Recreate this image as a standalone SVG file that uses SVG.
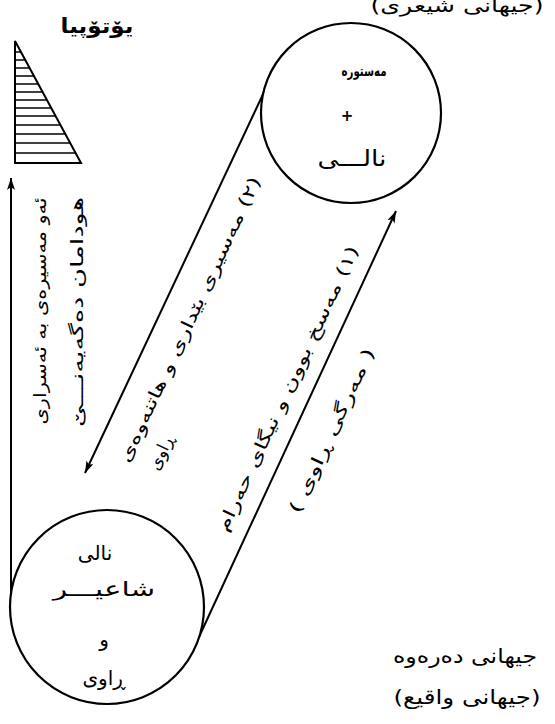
<svg xmlns="http://www.w3.org/2000/svg" width="555" height="724" viewBox="0 0 555 724">
<defs>
<marker id="ah" viewBox="0 0 12 8" refX="12" refY="4" markerWidth="12" markerHeight="8" markerUnits="userSpaceOnUse" orient="auto">
<path d="M0,0 L12,4 L0,8 L3,4 Z" fill="#000"/>
</marker>
<style>
.ln{stroke:#000;stroke-width:2;fill:none}
.nd{stroke:#000;stroke-width:2.2;fill:#fff}
.t{font-family:"DejaVu Sans","Noto Sans",sans-serif;fill:#000;direction:rtl;text-anchor:middle}
.b{font-weight:bold}
</style>
</defs>
<rect width="555" height="724" fill="#fff"/>

<g id="utopia">
<text class="t b" x="97" y="33" font-size="21" textLength="73" lengthAdjust="spacingAndGlyphs">یۆتۆپیا</text>
<polygon points="15,41 15,163 81,163" fill="#fff" stroke="#000" stroke-width="2"/>
<g stroke="#000" stroke-width="1.5">
<line x1="15" y1="52" x2="21" y2="52"/>
<line x1="15" y1="60" x2="25" y2="60"/>
<line x1="15" y1="68" x2="29.6" y2="68"/>
<line x1="15" y1="76" x2="34" y2="76"/>
<line x1="15" y1="84" x2="38.3" y2="84"/>
<line x1="15" y1="92" x2="42.6" y2="92"/>
<line x1="15" y1="100" x2="47" y2="100"/>
<line x1="15" y1="108" x2="51.2" y2="108"/>
<line x1="15" y1="116" x2="55.6" y2="116"/>
<line x1="15" y1="125" x2="60.4" y2="125"/>
<line x1="15" y1="134" x2="65.3" y2="134"/>
<line x1="15" y1="143" x2="70.2" y2="143"/>
<line x1="15" y1="153" x2="75.6" y2="153"/>
</g>
</g>

<g id="poetic-world">
<text class="t" x="457" y="12" font-size="19" textLength="173" lengthAdjust="spacingAndGlyphs">(جیهانی شیعری)</text>
</g>

<g id="connectors">
<line class="ln" x1="11" y1="605" x2="11" y2="178" marker-end="url(#ah)"/>
<line class="ln" x1="265" y1="90" x2="85" y2="473" marker-end="url(#ah)"/>
<line class="ln" x1="199" y1="637" x2="396" y2="211" marker-end="url(#ah)"/>
</g>

<g id="myth-nali">
<circle class="nd" cx="351" cy="113" r="90"/>
<text class="t b" x="364" y="76" font-size="15" textLength="45" lengthAdjust="spacingAndGlyphs">مەستورە</text>
<text class="t b" x="347" y="121" font-size="15">+</text>
<text class="t" x="352" y="166" font-size="22" textLength="69" lengthAdjust="spacingAndGlyphs">نالـــی</text>
</g>

<g id="nali-poet">
<circle class="nd" cx="107" cy="607" r="97"/>
<text class="t" x="95" y="560" font-size="20">نالی</text>
<text class="t" x="104" y="596" font-size="20" textLength="102" lengthAdjust="spacingAndGlyphs">شاعیـــر</text>
<text class="t" x="104" y="646" font-size="20">و</text>
<text class="t" x="104" y="685" font-size="20">ڕاوی</text>
</g>

<g id="outer-world">
<text class="t" x="465" y="663" font-size="20" textLength="144" lengthAdjust="spacingAndGlyphs">جیهانی دەرەوە</text>
<text class="t" x="467" y="704" font-size="20" textLength="147" lengthAdjust="spacingAndGlyphs">(جیهانی واقیع)</text>
</g>

<g id="labels">
<text class="t" font-size="17" transform="translate(46,311) rotate(-90)" textLength="227" lengthAdjust="spacingAndGlyphs">ئەو مەسیرەی بە ئەسراری</text>
<text class="t" font-size="17" transform="translate(83,312) rotate(-90)" textLength="230" lengthAdjust="spacingAndGlyphs">هودامان دەگەیەنـــێ</text>
<text class="t" font-size="17" transform="translate(195,322) rotate(-65)" textLength="313" lengthAdjust="spacingAndGlyphs">(٢) مەسیری بێداری و هاتنەوەی</text>
<text class="t" font-size="17" transform="translate(166,455) rotate(-65)">ڕاوی</text>
<text class="t" font-size="17" transform="translate(293,391) rotate(-65)" textLength="313" lengthAdjust="spacingAndGlyphs">(١) مەسخ بوون و نیگای حەرام</text>
<text class="t" font-size="17" transform="translate(337,433) rotate(-65)" textLength="180" lengthAdjust="spacingAndGlyphs">( مەرگی ڕاوی )</text>
</g>
</svg>
